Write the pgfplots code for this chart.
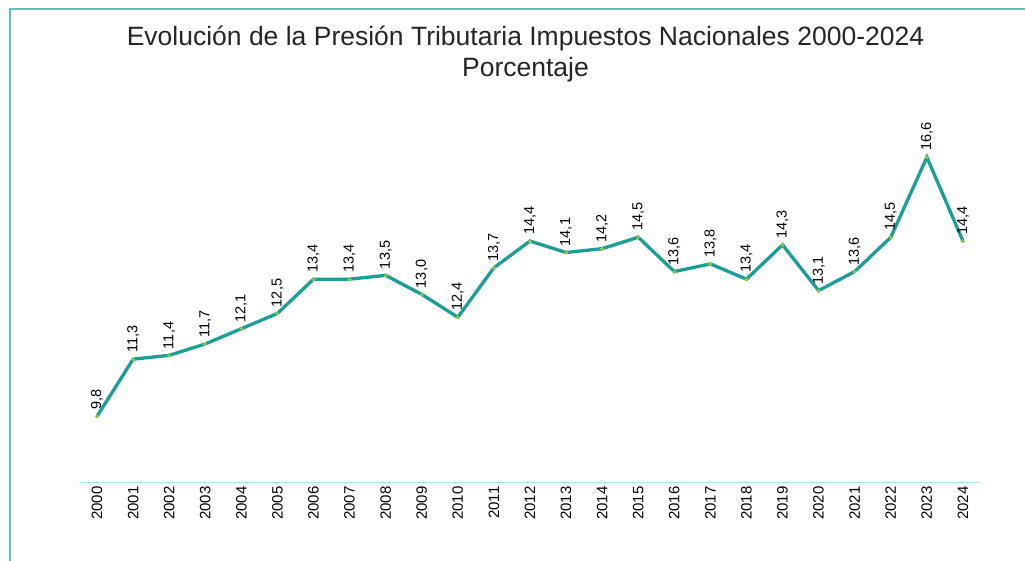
\documentclass[border=0pt]{standalone}
\usepackage{pgfplots}
\pgfplotsset{compat=1.18}
\usepackage{fontspec}
\setmainfont{Liberation Sans}
\definecolor{lineteal}{HTML}{1A9E95}
\definecolor{mk}{HTML}{8DC63F}
\definecolor{axline}{HTML}{B3E3DF}
\begin{document}
\begin{tikzpicture}
\path[use as bounding box] (0pt,0pt) rectangle (1025pt,561pt);
\fill[fill={rgb,255:red,90;green,195;blue,182}] (8.5pt,0pt) rectangle (10.5pt,552.5pt);
\fill[fill={rgb,255:red,90;green,195;blue,182}] (8.5pt,550.5pt) rectangle (1025pt,552.5pt);
\node[font=\fontsize{26.5}{31}\selectfont, align=center, text=black!85] at (525.5pt,507pt) {Evolución de la Presión Tributaria Impuestos Nacionales 2000-2024\\Porcentaje};
\begin{axis}[at={(79pt,78pt)}, anchor=south west, scale only axis, width=902pt, height=381pt,
  xmin=1999.5, xmax=2024.5, ymin=8.05, ymax=18.05,
  axis y line=none, axis x line*=bottom,
  x axis line style={axline, line width=1pt, -},
  xtick={2000,...,2024}, major tick length=0pt,
  /pgf/number format/assume math mode=true,
  xticklabel style={rotate=90, anchor=east, font=\fontsize{15}{17}\selectfont, /pgf/number format/1000 sep={}},
  clip=false,
  nodes near coords={\pgfmathprintnumber[assume math mode=true,use comma,fixed,fixed zerofill,precision=1]{\pgfplotspointmeta}},
  nodes near coords style={rotate=90, anchor=west, font=\fontsize{14.5}{16}\selectfont, text=black, xshift=3pt},
]
\addplot[lineteal, line width=3.3pt, mark=*, mark size=1.5pt, mark options={fill=mk, draw=mk, line width=0pt}] coordinates {
(2000,9.8) (2001,11.3) (2002,11.4) (2003,11.7) (2004,12.1) (2005,12.5) (2006,13.4) (2007,13.4) (2008,13.5) (2009,13.0) (2010,12.4) (2011,13.7) (2012,14.4) (2013,14.1) (2014,14.2) (2015,14.5) (2016,13.6) (2017,13.8) (2018,13.4) (2019,14.3) (2020,13.1) (2021,13.6) (2022,14.5) (2023,16.6) (2024,14.4)
};
\end{axis}
\end{tikzpicture}
\end{document}
